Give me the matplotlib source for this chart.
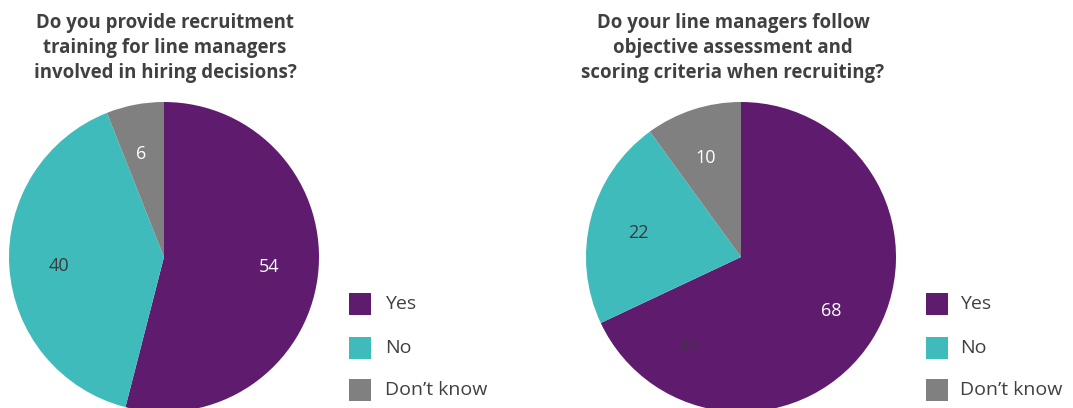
import numpy as np
import matplotlib.pyplot as plt
from matplotlib.patches import Rectangle

# data
categories = ['Yes', 'No', 'Don\u2019t know']
training = [54, 40, 6]
scoring = [68, 22, 10]
title_left = 'Do you provide recruitment\ntraining for line managers\ninvolved in hiring decisions?'
title_right = 'Do your line managers follow\nobjective assessment and\nscoring criteria when recruiting?'
stray_label = '27'

colors = ['#5f1c6e', '#40bbbb', '#808080']
label_colors = ['white', '#3a3a3a', 'white']
text_color = '#404040'

plt.rcParams['font.family'] = ['Open Sans', 'DejaVu Sans']

W, H = 1073, 408
fig = plt.figure(figsize=(W / 100, H / 100), dpi=100)


def px_axes(x0, y_top, w, h):
    return fig.add_axes([x0 / W, (H - y_top - h) / H, w / W, h / H])


def draw_pie(ax, values):
    ax.pie(values, colors=colors, startangle=90, counterclock=False,
           radius=1, wedgeprops=dict(linewidth=0))
    ax.set_xlim(-1, 1)
    ax.set_ylim(-1, 1)
    ax.set_aspect('equal')
    ax.axis('off')
    total = sum(values)
    start = 90.0
    for v, c in zip(values, label_colors):
        ang = np.deg2rad(start - 360.0 * v / total / 2 + 1.5)
        ax.text(0.68 * np.cos(ang), 0.68 * np.sin(ang), str(v), ha='center', va='center',
                fontsize=13, color=c)
        start -= 360.0 * v / total


def draw_legend(x_box, x_text):
    ys = [304, 348, 390]
    for cat, col, y in zip(categories, colors, ys):
        fig.patches.append(Rectangle((x_box / W, (H - y - 11) / H), 22 / W, 22 / H,
                                     transform=fig.transFigure, facecolor=col,
                                     edgecolor='none'))
        fig.text(x_text / W, (H - y) / H, cat, ha='left', va='center',
                 fontsize=14, color=text_color)


ax1 = px_axes(9, 102, 310, 310)
draw_pie(ax1, training)
ax2 = px_axes(586, 102, 310, 310)
draw_pie(ax2, scoring)
ax2.text(-0.34, -0.58, stray_label, ha='center', va='center', fontsize=13, color='#3a3a3a')

fig.text(165 / W, (H - 48) / H, title_left, ha='center', va='center', fontsize=13.4,
         fontweight='bold', color=text_color, linespacing=1.36)
fig.text(733 / W, (H - 48) / H, title_right, ha='center', va='center', fontsize=13.4,
         fontweight='bold', color=text_color, linespacing=1.36)

draw_legend(349, 385)
draw_legend(926, 960)

fig.savefig('out.png', dpi=100)
